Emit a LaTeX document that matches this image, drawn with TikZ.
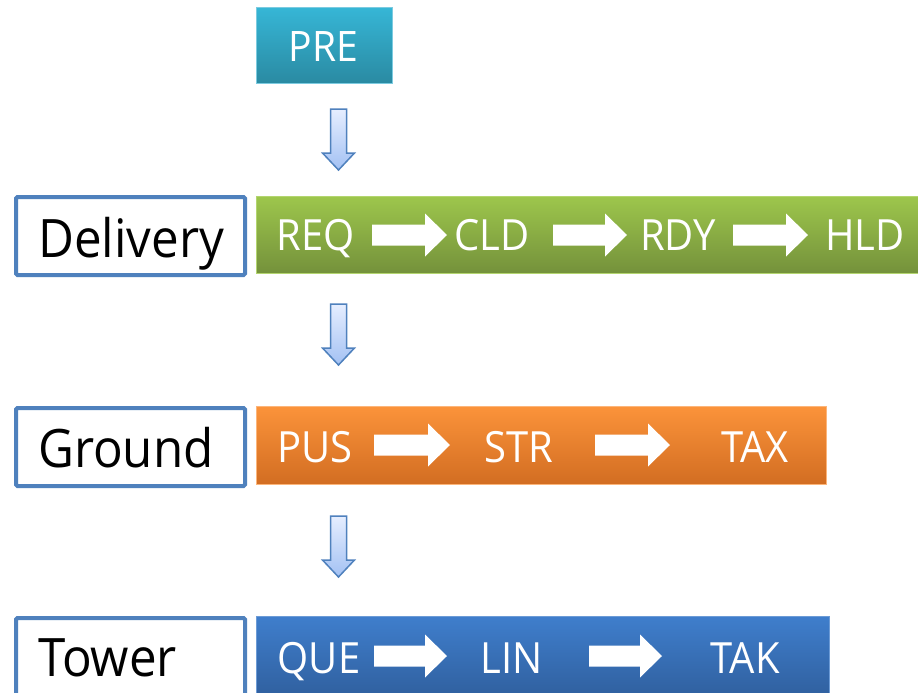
\documentclass[tikz,border=0pt]{standalone}
\usepackage{fontspec}
\setmainfont{Open Sans}[FakeStretch=0.93]
\definecolor{labelblue}{HTML}{4F81BD}
\definecolor{pretop}{HTML}{36B6D6}
\definecolor{prebot}{HTML}{2A8AA2}
\definecolor{preedge}{HTML}{7CCBE0}
\definecolor{grntop}{HTML}{9DC64C}
\definecolor{grnbot}{HTML}{74913B}
\definecolor{grnedge}{HTML}{B3D56F}
\definecolor{orgtop}{HTML}{FB933A}
\definecolor{orgbot}{HTML}{D26D22}
\definecolor{orgedge}{HTML}{FCB57A}
\definecolor{blutop}{HTML}{3F7ECC}
\definecolor{blubot}{HTML}{30609F}
\definecolor{bluedge}{HTML}{6C9BD6}
\definecolor{dtop}{HTML}{E6EEFF}
\definecolor{dbot}{HTML}{A3C1F3}
\begin{document}
\begin{tikzpicture}[x=1pt,y=-1pt,
  wlabel/.style={text=white,font=\fontsize{43}{43}\selectfont,anchor=base,inner sep=0pt},
  blabel/.style={text=black,font=\fontsize{53}{53}\selectfont,anchor=base west,inner sep=0pt},
  lblbox/.style={draw=labelblue,line width=4pt,fill=white,rounded corners=1.5pt,anchor=north west,inner sep=0pt},
  bar/.style={rectangle,anchor=north west,inner sep=0pt,line width=1pt},
  prebar/.style={bar,top color=pretop,bottom color=prebot,draw=preedge},
  grnbar/.style={bar,top color=grntop,bottom color=grnbot,draw=grnedge},
  orgbar/.style={bar,top color=orgtop,bottom color=orgbot,draw=orgedge},
  blubar/.style={bar,top color=blutop,bottom color=blubot,draw=bluedge},
  warrow/.style={fill=white},
  darrowst/.style={top color=dtop,bottom color=dbot,draw=labelblue,line width=1.5pt,line join=miter}
]
\clip (0,0) rectangle (918,693);
\fill[white] (0,0) rectangle (918,693);

\newcommand\rarr[3]{%
  \path[warrow] (#1,{#3-10.5}) -- ({#2-22},{#3-10.5}) -- ({#2-22},{#3-21.5}) -- (#2,#3)
    -- ({#2-22},{#3+21.5}) -- ({#2-22},{#3+10.5}) -- (#1,{#3+10.5}) -- cycle;}
\newcommand\darr[2]{%
  \path[darrowst] ({#1-8},#2) -- ({#1+8},#2) -- ({#1+8},{#2+44}) -- ({#1+16},{#2+44})
    -- (#1,{#2+61}) -- ({#1-16},{#2+44}) -- ({#1-8},{#2+44}) -- cycle;}

% PRE
\node[prebar,minimum width=136pt,minimum height=76pt] (pre) at (256,7) {};
\node[wlabel,font=\fontsize{42}{42}\selectfont] (pretxt) at (323.5,62) {PRE};

% Delivery row
\node[lblbox,minimum width=229pt,minimum height=78pt] (dlbl) at (14,195) {};
\node[blabel] (dtxt) at (38,257) {Delivery};
\node[grnbar,minimum width=666pt,minimum height=77pt] (dbar) at (256,196) {};
\node[wlabel] (req) at (316,250) {REQ};
\node[wlabel] (cld) at (492,250) {CLD};
\node[wlabel] (rdy) at (678,250) {RDY};
\node[wlabel] (hld) at (865,250) {HLD};
\rarr{372}{447}{235}
\rarr{553}{627}{235}
\rarr{733}{808}{235}

% Ground row
\node[lblbox,minimum width=229pt,minimum height=78pt] (glbl) at (14,406) {};
\node[blabel] (gtxt) at (38,467) {Ground};
\node[orgbar,minimum width=570pt,minimum height=78pt] (gbar) at (256,406) {};
\node[wlabel] (pus) at (315,462) {PUS};
\node[wlabel] (str) at (519,462) {STR};
\node[wlabel] (tax) at (755,462) {TAX};
\rarr{374}{450}{445}
\rarr{595}{670}{445}

% Tower row
\node[lblbox,minimum width=229pt,minimum height=90pt] (tlbl) at (14,616) {};
\node[blabel] (ttxt) at (38,676) {Tower};
\node[blubar,minimum width=573pt,minimum height=80pt] (tbar) at (256,616) {};
\node[wlabel] (que) at (319,673) {QUE};
\node[wlabel] (lin) at (512,673) {LIN};
\node[wlabel] (tak) at (745,673) {TAK};
\rarr{374}{447}{656}
\rarr{589}{662}{656}

% down arrows
\darr{338.5}{109}
\darr{338.5}{304}
\darr{338.5}{516}
\end{tikzpicture}
\end{document}
